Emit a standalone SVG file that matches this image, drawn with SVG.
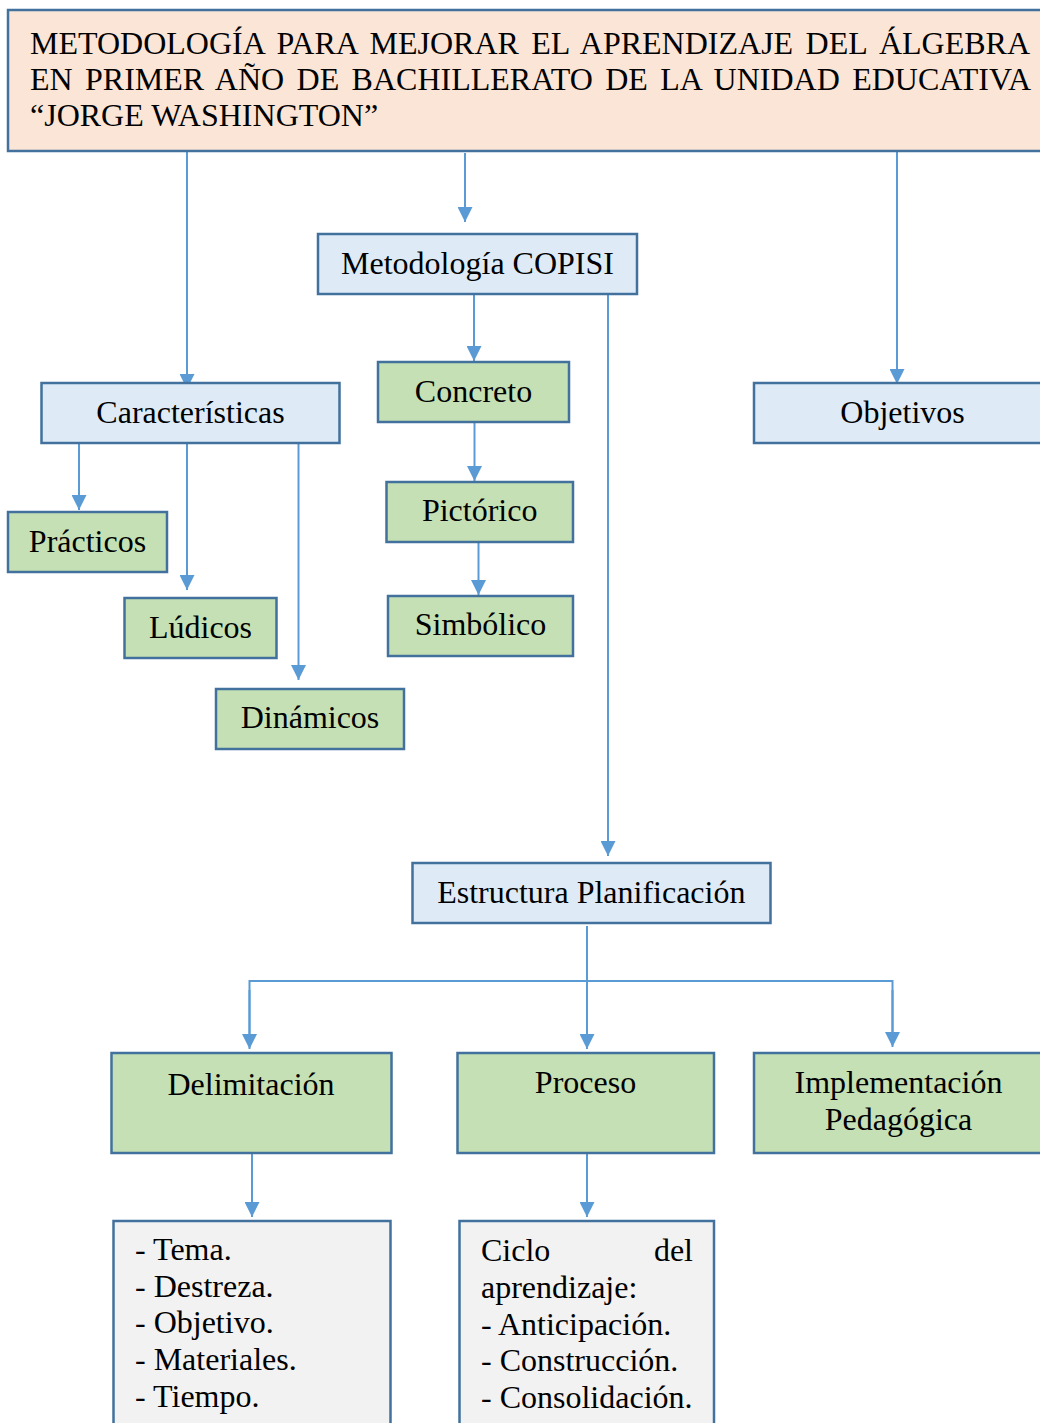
<svg xmlns="http://www.w3.org/2000/svg" width="1040" height="1423" viewBox="0 0 1040 1423">
  <style>
    .t{font-family:"Liberation Serif","Times New Roman",serif;font-size:32px;fill:#000}
    .c{text-anchor:middle}
    .box{stroke:#41719C;stroke-width:2.5}
    .peach{fill:#FBE5D6}
    .blue{fill:#DEEBF7}
    .green{fill:#C5E0B4}
    .grey{fill:#F2F2F2}
    .con{stroke:#5B9BD5;stroke-width:2;fill:none}
    .arr{marker-end:url(#ah)}
  </style>
  <defs>
    <marker id="ah" markerUnits="userSpaceOnUse" markerWidth="15" markerHeight="15" viewBox="0 0 15 15" refX="15" refY="7.5" orient="auto">
      <path d="M0,0 L15,7.5 L0,15 z" fill="#5B9BD5"/>
    </marker>
  </defs>
  <rect width="1040" height="1423" fill="#FFFFFF"/>

  <g id="connectors">
    <line class="con arr" x1="187" y1="152" x2="187" y2="389"/>
    <line class="con arr" x1="465" y1="153" x2="465" y2="222"/>
    <line class="con arr" x1="897" y1="152" x2="897" y2="384"/>
    <line class="con arr" x1="474" y1="295" x2="474" y2="361"/>
    <line class="con arr" x1="608" y1="295" x2="608" y2="856"/>
    <line class="con arr" x1="474.5" y1="423" x2="474.5" y2="481"/>
    <line class="con arr" x1="478.5" y1="543" x2="478.5" y2="595"/>
    <line class="con arr" x1="79" y1="444" x2="79" y2="510"/>
    <line class="con arr" x1="187" y1="444" x2="187" y2="590"/>
    <line class="con arr" x1="298.5" y1="444" x2="298.5" y2="680"/>
    <line class="con arr" x1="587" y1="926" x2="587" y2="1049"/>
    <polyline class="con" points="249.5,1040 249.5,981 892.5,981 892.5,1040"/>
    <line class="con arr" x1="249.5" y1="990" x2="249.5" y2="1049"/>
    <line class="con arr" x1="892.5" y1="990" x2="892.5" y2="1047"/>
    <line class="con arr" x1="252" y1="1149" x2="252" y2="1217"/>
    <line class="con arr" x1="587" y1="1149" x2="587" y2="1217"/>
  </g>

  <g id="title">
    <rect class="box peach" x="8" y="10" width="1040" height="141"/>
    <text class="t" x="30" y="54" word-spacing="4.4">METODOLOGÍA PARA MEJORAR EL APRENDIZAJE DEL ÁLGEBRA</text>
    <text class="t" x="30" y="90" word-spacing="4.4">EN PRIMER AÑO DE BACHILLERATO DE LA UNIDAD EDUCATIVA</text>
    <text class="t" x="30" y="126">“JORGE WASHINGTON”</text>
  </g>

  <g id="copisi">
    <rect class="box blue" x="318" y="234" width="319" height="60"/>
    <text class="t c" x="477.5" y="274">Metodología COPISI</text>
  </g>
  <g id="caracteristicas">
    <rect class="box blue" x="41.5" y="383" width="298" height="60"/>
    <text class="t c" x="190.5" y="423">Características</text>
  </g>
  <g id="objetivos">
    <rect class="box blue" x="754" y="383" width="297" height="60"/>
    <text class="t c" x="902.5" y="423">Objetivos</text>
  </g>
  <g id="concreto">
    <rect class="box green" x="378" y="362" width="191" height="60"/>
    <text class="t c" x="473.5" y="402">Concreto</text>
  </g>
  <g id="pictorico">
    <rect class="box green" x="386.5" y="482" width="186.5" height="60"/>
    <text class="t c" x="479.7" y="521">Pictórico</text>
  </g>
  <g id="simbolico">
    <rect class="box green" x="388" y="596" width="185" height="60"/>
    <text class="t c" x="480.5" y="635">Simbólico</text>
  </g>
  <g id="practicos">
    <rect class="box green" x="8" y="512" width="159" height="60"/>
    <text class="t c" x="87.5" y="552">Prácticos</text>
  </g>
  <g id="ludicos">
    <rect class="box green" x="124.5" y="598" width="152" height="60"/>
    <text class="t c" x="200.5" y="638">Lúdicos</text>
  </g>
  <g id="dinamicos">
    <rect class="box green" x="216" y="689" width="188" height="60"/>
    <text class="t c" x="310" y="728">Dinámicos</text>
  </g>
  <g id="estructura">
    <rect class="box blue" x="412.5" y="863" width="358" height="60"/>
    <text class="t c" x="591.3" y="903">Estructura Planificación</text>
  </g>
  <g id="delimitacion">
    <rect class="box green" x="111.5" y="1053" width="280" height="100"/>
    <text class="t c" x="251" y="1095">Delimitación</text>
  </g>
  <g id="proceso">
    <rect class="box green" x="457.5" y="1053" width="256.5" height="100"/>
    <text class="t c" x="585.5" y="1093">Proceso</text>
  </g>
  <g id="implementacion">
    <rect class="box green" x="754" y="1053" width="290" height="100"/>
    <text class="t c" x="898.5" y="1093">Implementación</text>
    <text class="t c" x="898.5" y="1130">Pedagógica</text>
  </g>
  <g id="lista-delimitacion">
    <rect class="box grey" x="113.5" y="1221" width="277" height="220"/>
    <text class="t" x="135" y="1260">- Tema.</text>
    <text class="t" x="135" y="1297">- Destreza.</text>
    <text class="t" x="135" y="1333">- Objetivo.</text>
    <text class="t" x="135" y="1370">- Materiales.</text>
    <text class="t" x="135" y="1407">- Tiempo.</text>
  </g>
  <g id="lista-proceso">
    <rect class="box grey" x="459.5" y="1221" width="254.5" height="220"/>
    <text class="t" x="481" y="1261">Ciclo</text>
    <text class="t" x="693" y="1261" text-anchor="end">del</text>
    <text class="t" x="481" y="1298">aprendizaje:</text>
    <text class="t" x="481" y="1335">- Anticipación.</text>
    <text class="t" x="481" y="1371">- Construcción.</text>
    <text class="t" x="481" y="1408">- Consolidación.</text>
  </g>
</svg>
